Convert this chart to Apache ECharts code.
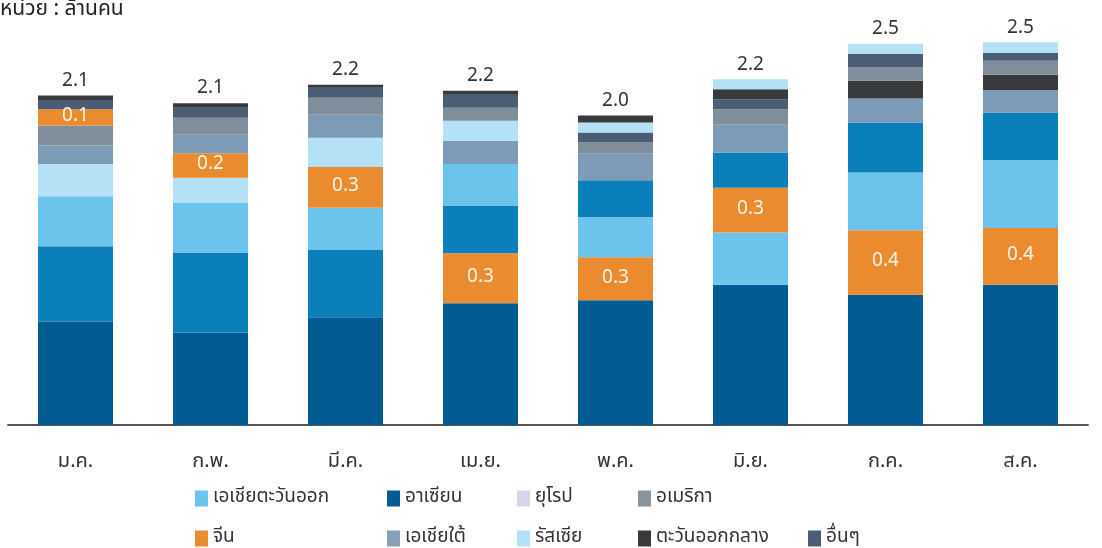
<!DOCTYPE html>
<html>
<head>
<meta charset="utf-8">
<script src="https://cdn.jsdelivr.net/npm/echarts@6/dist/echarts.min.js"></script>
<style>
    html, body { margin: 0; padding: 0; background: #fff; }
    #touristCharts { width: 1102px; height: 548px; }
</style>
</head>
<body>
<div id="touristCharts"></div>
<script>
    // เดือน
    const months = ['ม.ค.', 'ก.พ.', 'มี.ค.', 'เม.ย.', 'พ.ค.', 'มิ.ย.', 'ก.ค.', 'ส.ค.']
    // ตัวเลขรวมบนยอดแท่ง (ล้านคน)
    const totals = [2.1, 2.1, 2.2, 2.2, 2.0, 2.2, 2.5, 2.5]

    // ชื่อกลุ่มตามลำดับ legend
    const regions = ['เอเชียตะวันออก', 'อาเซียน', 'ยุโรป', 'อเมริกา', 'จีน', 'เอเชียใต้', 'รัสเซีย', 'ตะวันออกกลาง', 'อื่นๆ']

    // จำนวนนักท่องเที่ยวรายกลุ่ม (ล้านคน) ม.ค. - ส.ค.
    const eastAsia = [0.325, 0.325, 0.27, 0.27, 0.26, 0.34, 0.375, 0.44]
    const asean = [0.67, 0.60, 0.70, 0.79, 0.81, 0.91, 0.845, 0.91]
    const europe = [0.49, 0.52, 0.44, 0.31, 0.24, 0.23, 0.325, 0.31]
    const america = [0.13, 0.11, 0.11, 0.085, 0.07, 0.10, 0.09, 0.09]
    const china = [0.105, 0.16, 0.265, 0.325, 0.28, 0.29, 0.42, 0.37]
    const southAsia = [0.12, 0.12, 0.15, 0.15, 0.175, 0.18, 0.155, 0.145]
    const russia = [0.21, 0.16, 0.19, 0.13, 0.065, 0.065, 0.065, 0.07]
    const middleEast = [0.03, 0.03, 0.015, 0.02, 0.045, 0.065, 0.115, 0.10]
    const others = [0.06, 0.065, 0.07, 0.09, 0.065, 0.065, 0.085, 0.05]
    const values = [eastAsia, asean, europe, america, china, southAsia, russia, middleEast, others]

    // ลำดับการซ้อนในแต่ละเดือน (ล่าง -> บน), index ตาม regions
    const stackOrder = [
        [1, 2, 0, 6, 5, 3, 4, 8, 7],
        [1, 2, 0, 6, 4, 5, 3, 8, 7],
        [1, 2, 0, 4, 6, 5, 3, 8, 7],
        [1, 4, 2, 0, 5, 6, 3, 8, 7],
        [1, 4, 0, 2, 5, 3, 8, 6, 7],
        [1, 0, 4, 2, 5, 3, 8, 7, 6],
        [1, 4, 0, 2, 5, 7, 3, 8, 6],
        [1, 4, 0, 2, 5, 7, 3, 8, 6]
    ]

    const barColors = ['#6cc3ec', '#035b94', '#0a7fb9', '#808d9b', '#eb8b30', '#7d9ab6', '#b5e1f6', '#383a3c', '#4a5d74']
    const legendColors = ['#6cc3ec', '#035b94', '#d6d6ea', '#8a949e', '#eb8b30', '#85a0b8', '#b5e1f6', '#383a3c', '#4a5d74']
    const legendPos = [
        [195, 489], [387, 489], [517, 489], [638, 489],
        [195, 529], [387, 529], [517, 529], [638, 529], [808, 529]
    ]

    const FONT = "'Noto Sans Thai', 'Noto Sans', sans-serif"
    const CHINA = 4

    // ชั้นของแท่ง: แต่ละชั้นหยิบกลุ่มตามลำดับของเดือนนั้น
    const layerSeries = []
    for (let k = 0; k < regions.length; k++) {
        const isTop = k === regions.length - 1
        layerSeries.push({
            type: 'bar',
            stack: 'total',
            barWidth: 75,
            silent: true,
            data: months.map((m, i) => {
                const r = stackOrder[i][k]
                const item = {
                    value: values[r][i],
                    name: regions[r],
                    itemStyle: {color: barColors[r]}
                }
                if (r === CHINA) {
                    item.label = {
                        show: true,
                        position: 'inside',
                        formatter: (p) => p.value.toFixed(1),
                        color: '#fff6e8',
                        fontSize: 19,
                        fontFamily: FONT
                    }
                }
                return item
            }),
            label: isTop ? {
                show: true,
                position: 'top',
                distance: 4,
                formatter: (p) => totals[p.dataIndex].toFixed(1),
                color: '#333',
                fontSize: 19,
                fontFamily: FONT
            } : {show: false}
        })
    }

    // series ว่างไว้ใช้กับ legend
    const legendSeries = regions.map((name, r) => ({
        type: 'bar',
        name: name,
        stack: 'total',
        barWidth: 75,
        data: [],
        itemStyle: {color: legendColors[r]}
    }))

    const option = {
        backgroundColor: '#fff',
        animation: false,
        title: {
            text: 'หน่วย : ล้านคน',
            left: 0,
            top: 0,
            padding: 0,
            textStyle: {
                fontSize: 21,
                fontWeight: 'normal',
                color: '#222',
                fontFamily: FONT
            }
        },
        legend: regions.map((name, r) => ({
            data: [name],
            left: legendPos[r][0],
            top: legendPos[r][1],
            padding: 0,
            icon: 'rect',
            itemWidth: 13,
            itemHeight: 16,
            selectedMode: false,
            textStyle: {
                fontSize: 19,
                color: '#333',
                fontFamily: FONT
            }
        })),
        grid: {
            left: 8,
            right: 14,
            top: 40,
            bottom: 123
        },
        xAxis: {
            type: 'category',
            data: months,
            axisLine: {
                lineStyle: {color: '#555', width: 2}
            },
            axisTick: {show: false},
            axisLabel: {
                margin: 28,
                fontSize: 20,
                color: '#333',
                fontFamily: FONT
            }
        },
        yAxis: {
            type: 'value',
            min: 0,
            max: 2.5,
            show: false,
            splitLine: {show: false}
        },
        series: layerSeries.concat(legendSeries)
    }

    const touristCharts = echarts.init(document.getElementById('touristCharts'))
    touristCharts.setOption(option)
    window.addEventListener('resize', () => touristCharts.resize())
</script>
</body>
</html>
